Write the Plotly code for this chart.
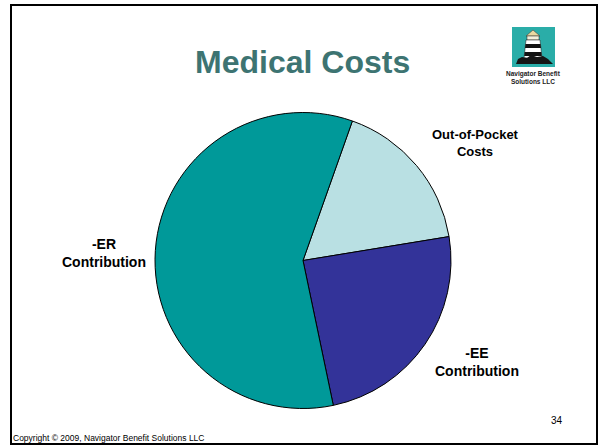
import plotly.graph_objects as go

# Medical cost split
categories = ["Out-of-Pocket<br>Costs", "-EE<br>Contribution", "-ER<br>Contribution"]
shares = [17.0, 24.3, 58.7]
colors = ["#B9E0E3", "#333399", "#009999"]
label_pos = [(475, 143), (477, 362), (104, 253)]  # label centres in px
label_size = [13, 14, 14]

W, H = 600, 447


def px(x):
    return x / W


def py(y):
    return 1 - y / H


fig = go.Figure()

cx, cy, r = 303, 260.5, 148
fig.add_trace(go.Pie(
    labels=categories,
    values=shares,
    sort=False,
    direction="clockwise",
    rotation=19.5,
    marker=dict(colors=colors, line=dict(color="#000000", width=1)),
    textinfo="none",
    hoverinfo="label+percent",
    showlegend=False,
    domain=dict(x=[px(cx - r), px(cx + r)], y=[py(cy + r), py(cy - r)]),
))

annotations = []
for lab, (lx, ly), fs in zip(categories, label_pos, label_size):
    annotations.append(dict(
        x=px(lx), y=py(ly), xref="paper", yref="paper", text=f"<b>{lab}</b>",
        showarrow=False, align="center", xanchor="center", yanchor="middle",
        font=dict(family="Liberation Sans, Arial", size=fs, color="#000000"),
    ))

annotations += [
    dict(x=px(302), y=py(62), xref="paper", yref="paper", text="<b>Medical Costs</b>",
         showarrow=False, xanchor="center", yanchor="middle",
         font=dict(family="Liberation Sans, Arial", size=32, color="#3D7472")),
    dict(x=px(533), y=py(78), xref="paper", yref="paper",
         text="<b>Navigator Benefit<br>Solutions LLC</b>",
         showarrow=False, xanchor="center", yanchor="middle", align="center",
         font=dict(family="Liberation Sans, Arial", size=6.5, color="#222222")),
    dict(x=px(12), y=py(438), xref="paper", yref="paper",
         text="Copyright © 2009, Navigator Benefit Solutions LLC",
         showarrow=False, xanchor="left", yanchor="middle", borderpad=0,
         font=dict(family="Liberation Sans, Arial", size=8.5, color="#000000")),
    dict(x=px(557), y=py(420), xref="paper", yref="paper", text="34",
         showarrow=False, xanchor="center", yanchor="middle",
         font=dict(family="Liberation Sans, Arial", size=10, color="#000000")),
]


def rect(x0, y0, x1, y1, **kw):
    return dict(type="rect", xref="paper", yref="paper",
                x0=px(x0), x1=px(x1), y0=py(y1), y1=py(y0), **kw)


def path(points, **kw):
    d = "M " + " L ".join(f"{px(x)},{py(y)}" for x, y in points) + " Z"
    return dict(type="path", xref="paper", yref="paper", path=d, **kw)


shapes = [
    # slide frame
    rect(11, 5, 597, 444, line=dict(color="#000000", width=2),
         fillcolor="rgba(0,0,0,0)", layer="below"),
    # logo tile
    rect(512, 27, 555, 67, line=dict(width=0), fillcolor="#2AADA8"),
    # lighthouse roof and lantern
    path([(526, 36), (533, 30), (540, 36)], line=dict(color="#333333", width=0.5), fillcolor="#EAD9A0"),
    rect(527, 36, 539, 40, line=dict(color="#222222", width=0.5), fillcolor="#F4F0DA"),
    # tower
    path([(526, 40), (540, 40), (542, 58), (524, 58)], line=dict(color="#111111", width=0.5), fillcolor="#FFFFFF"),
    path([(525.5, 44), (540.5, 44), (541, 48), (525, 48)], line=dict(width=0), fillcolor="#111111"),
    path([(524.7, 52), (541.3, 52), (541.8, 56), (524.2, 56)], line=dict(width=0), fillcolor="#111111"),
    # rocks
    path([(516, 64), (518, 59), (522, 57), (527, 58), (531, 55), (537, 57), (543, 56),
          (548, 59), (551, 62), (553, 64)], line=dict(width=0), fillcolor="#151515"),
]

fig.update_layout(
    width=W, height=H,
    margin=dict(l=0, r=0, t=0, b=0),
    paper_bgcolor="#FFFFFF",
    plot_bgcolor="#FFFFFF",
    annotations=annotations,
    shapes=shapes,
)

fig.write_html("out.html")
